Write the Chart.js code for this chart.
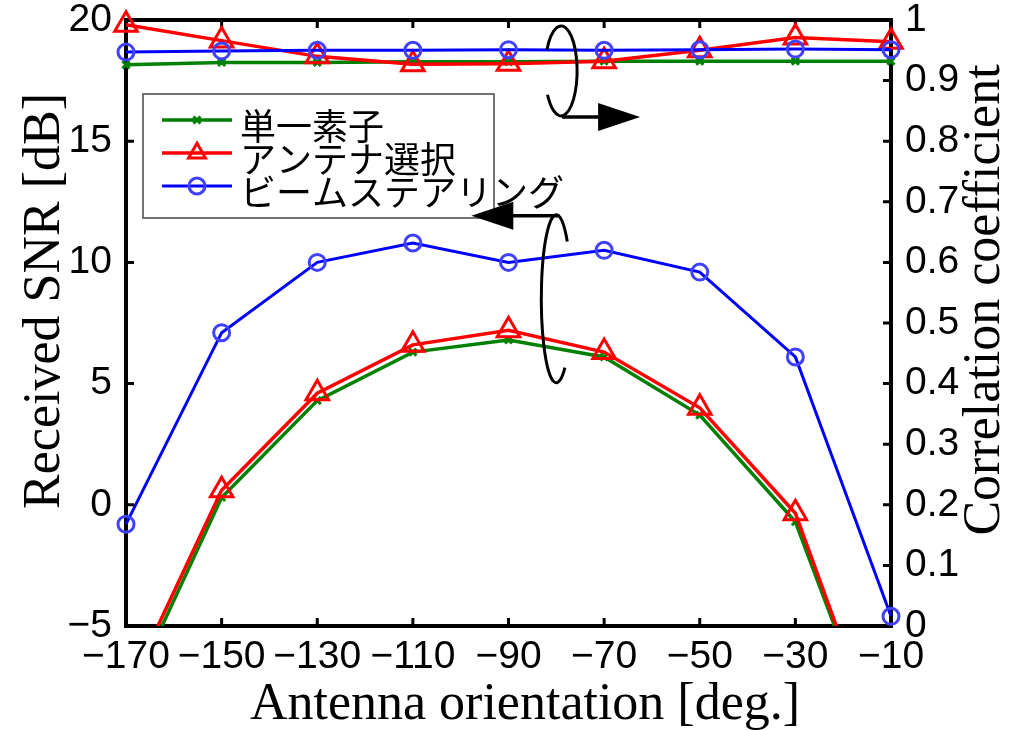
<!DOCTYPE html>
<html>
<head>
<meta charset="utf-8">
<script src="https://cdn.jsdelivr.net/npm/chart.js@4"></script>
<style>
  html, body { margin: 0; padding: 0; background: #fff; }
  #chart { display: block; }
</style>
</head>
<body>
<canvas id="chart" width="1012" height="730"></canvas>
<script>
// 横軸: アンテナ向き [deg.]
const angles = [-170, -150, -130, -110, -90, -70, -50, -30, -10];

// 受信SNR [dB] (左軸)
const snrSingle = [-8.2, 0.3, 4.3, 6.3, 6.8, 6.1, 3.7, -0.7, -11.2];
const snrSelect = [-7.8, 0.6, 4.6, 6.6, 7.2, 6.3, 4.0, -0.35, -11.2];
const snrBeam   = [-0.8, 7.1, 10.0, 10.8, 10.0, 10.5, 9.6, 6.1, -4.6];

// 相関係数 (右軸)
const corrSingle = [0.926, 0.930, 0.930, 0.931, 0.931, 0.932, 0.932, 0.932, 0.932];
const corrSelect = [0.992, 0.966, 0.940, 0.927, 0.928, 0.932, 0.950, 0.971, 0.964];
const corrBeam   = [0.947, 0.949, 0.950, 0.950, 0.951, 0.950, 0.951, 0.952, 0.951];

// 凡例ラベル
const seriesLabels = ['単一素子', 'アンテナ選択', 'ビームステアリング'];

// 目盛り
const xTicks = [-170, -150, -130, -110, -90, -70, -50, -30, -10];
const snrTicks = [-5, 0, 5, 10, 15, 20];
const corrTicks = [0, 0.1, 0.2, 0.3, 0.4, 0.5, 0.6, 0.7, 0.8, 0.9, 1];

const sansFont = "'Liberation Sans', Arial, sans-serif";
const serifFont = "'Liberation Serif', 'Times New Roman', serif";
const jpFont = "'Noto Sans CJK JP', sans-serif";

const styles = [
    { color: '#008000', point: 'crossRot', radius: 5, width: 3.5, pointColor: '#008000' },
    { color: '#ff0000', point: 'triangle', radius: 13, width: 3.5, pointColor: '#ff0000' },
    { color: '#0000ff', point: 'circle', radius: 8, width: 3, pointColor: '#4040ff' }
];

function toPoints(values) {
    return angles.map((a, i) => ({ x: a, y: values[i] }));
}

function makeDataset(idx, values, axis) {
    const s = styles[idx];
    return {
        label: seriesLabels[idx],
        data: toPoints(values),
        yAxisID: axis,
        borderColor: s.color,
        borderWidth: s.width,
        pointStyle: s.point,
        pointRadius: s.radius,
        pointBorderColor: s.pointColor,
        pointBackgroundColor: 'rgba(0,0,0,0)',
        pointBorderWidth: 3,
        tension: 0,
        clip: { left: 20, top: 20, right: 20, bottom: 0 }
    };
}

const minus = v => String(v).replace('-', '\u2212');

// ラベルのはみ出しでプロット領域がずれないようにする
function fixSize(prop, size) {
    return s => {
        s[prop] = size;
        s.paddingTop = 0;
        s.paddingBottom = 0;
        s.paddingLeft = 0;
        s.paddingRight = 0;
    };
}

// 枠線と内向きの目盛り
const framePlugin = {
    id: 'frame',
    beforeDatasetsDraw(chart) {
        const { ctx, chartArea: a, scales } = chart;
        ctx.save();
        ctx.strokeStyle = '#000';
        ctx.lineWidth = 3;
        const tl = 8;
        ctx.beginPath();
        xTicks.forEach(v => {
            const px = scales.x.getPixelForValue(v);
            ctx.moveTo(px, a.bottom); ctx.lineTo(px, a.bottom - tl);
            ctx.moveTo(px, a.top); ctx.lineTo(px, a.top + tl);
        });
        snrTicks.forEach(v => {
            const py = scales.y.getPixelForValue(v);
            ctx.moveTo(a.left, py); ctx.lineTo(a.left + tl, py);
        });
        corrTicks.forEach(v => {
            const py = scales.y1.getPixelForValue(v);
            ctx.moveTo(a.right, py); ctx.lineTo(a.right - tl, py);
        });
        ctx.stroke();
        ctx.lineWidth = 4;
        ctx.strokeRect(a.left, a.top, a.right - a.left, a.bottom - a.top);
        ctx.restore();
    }
};

// 凡例, 注記 (楕円と矢印), 軸タイトル
const overlayPlugin = {
    id: 'overlay',
    afterDraw(chart) {
        const { ctx, chartArea: a, scales } = chart;
        const xs = scales.x, ys = scales.y;
        ctx.save();

        // 凡例
        const box = { left: a.left + 17, top: a.top + 74, right: a.left + 368, bottom: a.top + 198 };
        ctx.fillStyle = '#fff';
        ctx.fillRect(box.left, box.top, box.right - box.left, box.bottom - box.top);
        ctx.strokeStyle = '#444';
        ctx.lineWidth = 1.5;
        ctx.strokeRect(box.left, box.top, box.right - box.left, box.bottom - box.top);
        const rowY = [box.top + 26, box.top + 59, box.top + 92];
        seriesLabels.forEach((label, i) => {
            const s = styles[i];
            const y = rowY[i];
            const x0 = box.left + 19, x1 = box.left + 89, xm = (x0 + x1) / 2;
            ctx.strokeStyle = s.color;
            ctx.lineWidth = s.width;
            ctx.beginPath(); ctx.moveTo(x0, y); ctx.lineTo(x1, y); ctx.stroke();
            ctx.strokeStyle = s.pointColor;
            ctx.lineWidth = 3;
            ctx.beginPath();
            if (s.point === 'crossRot') {
                const r = s.radius * 0.7;
                ctx.moveTo(xm - r, y - r); ctx.lineTo(xm + r, y + r);
                ctx.moveTo(xm - r, y + r); ctx.lineTo(xm + r, y - r);
            } else if (s.point === 'triangle') {
                const r = s.radius * 0.75;
                ctx.moveTo(xm, y - r);
                ctx.lineTo(xm + r * 0.866, y + r * 0.5);
                ctx.lineTo(xm - r * 0.866, y + r * 0.5);
                ctx.closePath();
            } else {
                ctx.arc(xm, y, s.radius, 0, Math.PI * 2);
            }
            ctx.stroke();
            ctx.fillStyle = '#000';
            ctx.font = '36px ' + jpFont;
            ctx.textAlign = 'left';
            ctx.textBaseline = 'middle';
            ctx.fillText(label, box.left + 97, y + 6);
        });

        // 注記
        const deg = d => d * Math.PI / 180;
        ctx.strokeStyle = '#000';
        ctx.fillStyle = '#000';
        ctx.lineWidth = 3;
        // 上: 相関係数 → 右軸
        const ux = xs.getPixelForValue(-79), uy = ys.getPixelForValue(17.9);
        ctx.beginPath();
        ctx.ellipse(ux, uy, 16, 45, 0, deg(208), deg(508));
        ctx.stroke();
        const uay = uy + 46;
        ctx.lineWidth = 3.5;
        ctx.beginPath(); ctx.moveTo(ux + 1, uay); ctx.lineTo(ux + 40, uay); ctx.stroke();
        ctx.beginPath();
        ctx.moveTo(ux + 79, uay); ctx.lineTo(ux + 37, uay - 14); ctx.lineTo(ux + 37, uay + 14);
        ctx.closePath(); ctx.fill();
        // 下: SNR → 左軸
        const lx = xs.getPixelForValue(-80), ly = ys.getPixelForValue(8.5);
        ctx.lineWidth = 3;
        ctx.beginPath();
        ctx.ellipse(lx, ly, 15, 84, 0, deg(55), deg(317));
        ctx.stroke();
        const lay = ly - 83;
        ctx.lineWidth = 3.5;
        ctx.beginPath(); ctx.moveTo(lx + 3, lay); ctx.lineTo(lx - 45, lay); ctx.stroke();
        ctx.beginPath();
        ctx.moveTo(lx - 85, lay); ctx.lineTo(lx - 43, lay - 14); ctx.lineTo(lx - 43, lay + 14);
        ctx.closePath(); ctx.fill();

        // 軸タイトル
        ctx.font = '52px ' + serifFont;
        ctx.textAlign = 'center';
        ctx.textBaseline = 'middle';
        ctx.fillText('Antenna orientation [deg.]', a.left + 399, 705);
        ctx.save();
        ctx.translate(45, a.top + 281);
        ctx.rotate(-Math.PI / 2);
        ctx.fillText('Received SNR [dB]', 0, 0);
        ctx.restore();
        ctx.save();
        ctx.translate(985, a.top + 280);
        ctx.rotate(-Math.PI / 2);
        ctx.fillText('Correlation coefficient', 0, 0);
        ctx.restore();

        ctx.restore();
    }
};

const tickFont = { family: sansFont, size: 39, lineHeight: 1 };

new Chart(document.getElementById('chart'), {
    type: 'line',
    data: {
        datasets: [
            makeDataset(2, snrBeam, 'y'),
            makeDataset(1, snrSelect, 'y'),
            makeDataset(0, snrSingle, 'y'),
            makeDataset(2, corrBeam, 'y1'),
            makeDataset(1, corrSelect, 'y1'),
            makeDataset(0, corrSingle, 'y1')
        ]
    },
    options: {
        responsive: false,
        animation: false,
        devicePixelRatio: 1,
        layout: { padding: { top: 20, left: 0, right: 0, bottom: 0 }, autoPadding: false },
        plugins: {
            legend: { display: false },
            tooltip: { enabled: false }
        },
        scales: {
            x: {
                type: 'linear',
                position: 'bottom',
                min: -170,
                max: -10,
                afterBuildTicks: s => { s.ticks = xTicks.map(v => ({ value: v })); },
                afterFit: fixSize('height', 104),
                grid: { display: false, drawTicks: false },
                border: { display: false },
                ticks: {
                    autoSkip: false,
                    maxRotation: 0,
                    padding: 12,
                    color: '#000',
                    font: tickFont,
                    callback: v => minus(v)
                }
            },
            y: {
                type: 'linear',
                position: 'left',
                min: -5,
                max: 20,
                afterBuildTicks: s => { s.ticks = snrTicks.map(v => ({ value: v })); },
                afterFit: fixSize('width', 126),
                grid: { display: false, drawTicks: false },
                border: { display: false },
                ticks: { padding: 14, color: '#000', font: tickFont, callback: v => minus(v) }
            },
            y1: {
                type: 'linear',
                position: 'right',
                min: 0,
                max: 1,
                afterBuildTicks: s => { s.ticks = corrTicks.map(v => ({ value: v })); },
                afterFit: fixSize('width', 121),
                grid: { display: false, drawTicks: false },
                border: { display: false },
                ticks: {
                    padding: 14,
                    color: '#000',
                    font: tickFont,
                    callback: v => String(Math.round(v * 10) / 10)
                }
            }
        }
    },
    plugins: [framePlugin, overlayPlugin]
});
</script>
</body>
</html>
